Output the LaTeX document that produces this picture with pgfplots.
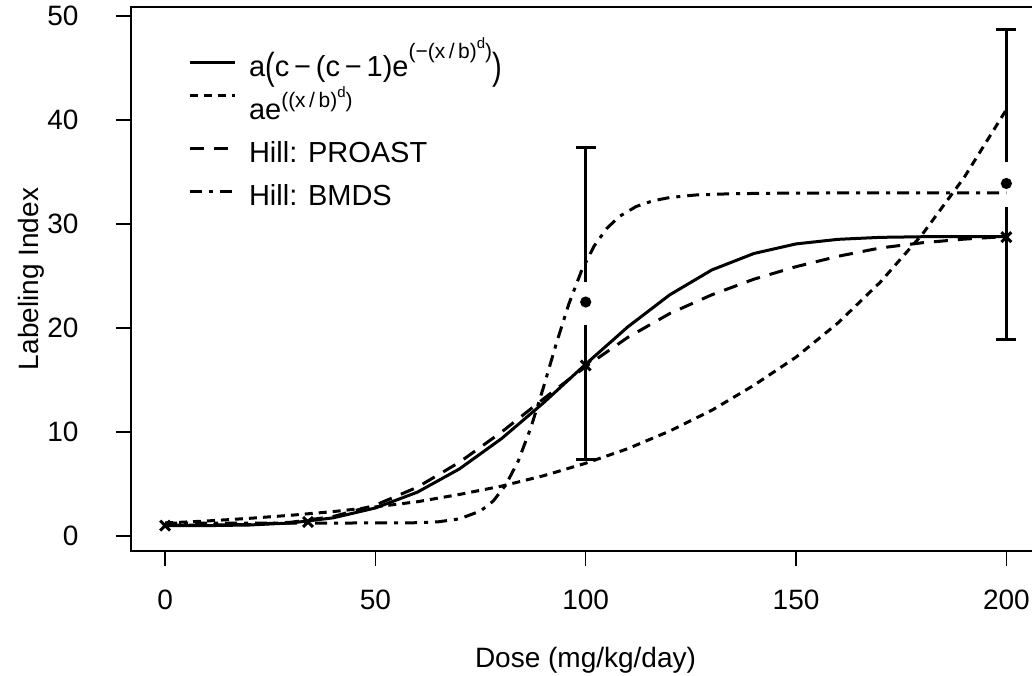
\documentclass[border=0pt]{standalone}
\usepackage{pgfplots}
\pgfplotsset{compat=1.18}
\usepackage{fontspec}
\setmainfont{Liberation Sans}
\newcommand{\up}[1]{\raisebox{0.62em}{\fontsize{10.5}{10.5}\selectfont #1}}
\newcommand{\upb}[1]{\raisebox{0.4em}{\fontsize{10.5}{10.5}\selectfont #1}}
\newcommand{\upp}[1]{\raisebox{0.45em}{\fontsize{7.5}{7.5}\selectfont #1}}
\newcommand{\bigp}[1]{\raisebox{-0.12em}{\scalebox{1}[1.3]{#1}}}
\pgfplotsset{raisedleg/.style={legend image code/.code={\draw[##1] (0pt,0.3em+5pt) -- (22.5pt,0.3em+5pt);}}}
\begin{document}
\begin{tikzpicture}
\begin{axis}[
  at={(0,0)}, anchor=south west,
  scale only axis, width=454.5pt, height=272pt,
  xmin=-8.1, xmax=208, ymin=-1.44, ymax=50.87,
  axis line style={line width=1.25pt},
  xtick={0,50,100,150,200}, ytick={0,10,20,30,40,50},
  xtick pos=bottom, ytick pos=left,
  tick align=outside, major tick length=7.5pt,
  tick style={line width=0.7pt, black},
  /pgf/number format/assume math mode=true,
  ticklabel style={font=\fontsize{14}{16}\selectfont},
  xticklabel style={anchor=north, inner sep=0pt, yshift=-11pt},
  yticklabel style={anchor=east, inner sep=0pt, xshift=-18pt},
  xlabel={Dose (mg/kg/day)}, ylabel={Labeling Index},
  label style={font=\fontsize{14}{16}\selectfont},
  xlabel style={at={(axis description cs:0.5,0)}, anchor=base, yshift=-58pt},
  ylabel style={at={(axis description cs:0,0.5)}, anchor=center, yshift=50pt},
  legend cell align=left,
  legend image code/.code={\draw[#1] (0pt,0.3em) -- (22.5pt,0.3em);},
  legend style={draw=none, fill=none, inner sep=0pt, outer sep=0pt,
    at={(axis description cs:0,1)}, anchor=north west, xshift=28.5pt, yshift=-21.5pt,
    font=\fontsize{14.5}{16}\selectfont, row sep=3pt,
    nodes={inner sep=2pt, text height=11pt, text depth=3.5pt}, column sep=4.5pt},
  line width=1.5pt,
  unbounded coords=jump,
]
% model 1: a(c-(c-1)exp(-(x/b)^d))
\addplot[black, solid, line width=1.5pt] coordinates {
(0,1.0) (10,1.0) (20,1.06) (30,1.26) (40,1.75) (50,2.70) (60,4.22) (70,6.46) (80,9.37) (90,12.82) (100,16.53) (110,20.11) (120,23.2) (130,25.59) (140,27.17) (150,28.09) (160,28.53) (170,28.72) (180,28.78) (190,28.8) (200,28.8)};
\addlegendentry{a\bigp{(}c\,−\,(c\,−\,1)e\up{(−(x\,/\,b)\upp{d})}\bigp{)}}
% model 2: a exp((x/b)^d)
\addplot[black, line width=1.5pt, dash pattern=on 4pt off 3pt, raisedleg] coordinates {
(0,1.25) (10,1.45) (20,1.7) (30,2.0) (40,2.35) (50,2.8) (60,3.3) (70,4.0) (80,4.8) (90,5.8) (100,7.0) (110,8.4) (120,10.1) (130,12.1) (140,14.5) (150,17.2) (160,20.5) (170,24.4) (180,29.0) (190,34.5) (200,41.0)};
\addlegendentry{ae\upb{((x\,/\,b)\upp{d})}}
% Hill PROAST
\addplot[black, line width=1.5pt, dash pattern=on 7pt off 5pt] coordinates {
(0,1.05) (10,1.06) (20,1.1) (30,1.33) (40,1.88) (50,2.97) (60,4.7) (70,7.1) (80,10.0) (90,13.2) (100,16.3) (110,19.1) (120,21.4) (130,23.2) (140,24.7) (150,25.9) (160,26.9) (170,27.7) (180,28.2) (190,28.55) (200,28.8)};
\addlegendentry{Hill: PROAST}
% Hill BMDS
\addplot[black, line width=1.5pt, dash pattern=on 6pt off 3.5pt on 2pt off 3.5pt] coordinates {
(0,1.25) (20,1.25) (40,1.25) (55,1.26) (60,1.28) (65,1.37) (70,1.65) (75,2.41) (78,3.36) (81,4.91) (84,7.25) (87,10.47) (90,14.36) (93,18.5) (96,22.33) (99,25.5) (102,27.89) (105,29.58) (108,30.73) (112,31.69) (116,32.24) (120,32.55) (126,32.79) (135,32.92) (150,32.98) (175,33.0) (200,33.0)};
\addlegendentry{Hill: BMDS}
% observed points (x)
\addplot[only marks, mark=x, mark size=3.5pt, line width=1.5pt, black, forget plot] coordinates {
(0,1.0) (34,1.35) (100,16.4) (200,28.75)};
% means (dots)
\addplot[only marks, mark=*, mark size=2pt, black, forget plot] coordinates {
(100,22.5) (200,33.9)};
% error bars with gap around the mean
\addplot[black, line width=1.5pt, forget plot] coordinates {
(97.6,37.4) (102.4,37.4) (100,nan)
(100,37.4) (100,24.4) (100,nan)
(100,20.3) (100,7.4) (100,nan)
(97.6,7.4) (102.4,7.4) (100,nan)
(197.6,48.75) (202.4,48.75) (200,nan)
(200,48.75) (200,36.0) (200,nan)
(200,31.6) (200,18.85) (200,nan)
(197.6,18.85) (202.4,18.85)};
\end{axis}
\pgfresetboundingbox
\path[use as bounding box] (-65.5pt,-62pt) rectangle (450.5pt,275.5pt);
\end{tikzpicture}
\end{document}
